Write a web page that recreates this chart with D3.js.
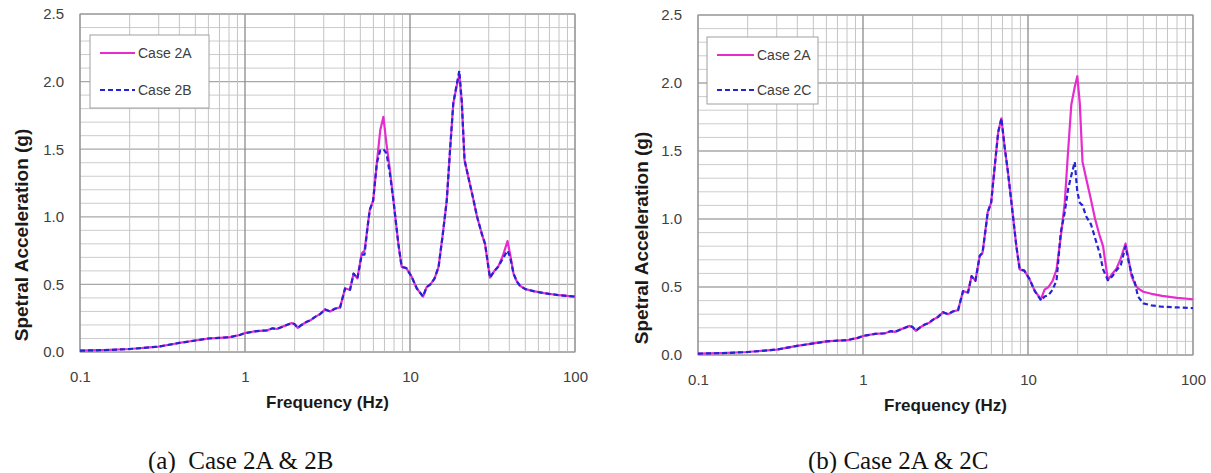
<!DOCTYPE html>
<html>
<head>
<meta charset="utf-8">
<script src="https://cdn.jsdelivr.net/npm/d3@7"></script>
<style>
  body { margin: 0; background: #fff; }
  svg { display: block; }
</style>
</head>
<body>
<div id="chart"></div>
<script>
// DATA ////////////////////////////////////////////////////////////
var freq = [0.1, 0.15, 0.2, 0.3, 0.39, 0.5, 0.6, 0.7, 0.81, 0.93,
  1.0, 1.18, 1.36, 1.47, 1.56, 1.75, 1.92, 2.0, 2.09, 2.2,
  2.37, 2.5, 2.66, 2.85, 3.06, 3.28, 3.5, 3.77, 4.04, 4.33,
  4.55, 4.8, 5.1, 5.3, 5.5, 5.7, 5.98, 6.3, 6.6, 6.9,
  7.2, 7.55, 7.94, 8.5, 8.9, 9.5, 10.2, 11.0, 12.0, 12.6,
  13.3, 14.1, 14.9, 15.8, 16.7, 17.5, 18.3, 19.2, 19.9, 20.6,
  21.4, 22.5, 24.1, 25.5, 27.3, 28.5, 30.5, 32.5, 34.2, 36.5,
  39.0, 40.5, 42.4, 44.5, 46.4, 50, 56, 65, 80, 100];

var case2A = [0.01, 0.015, 0.022, 0.04, 0.065, 0.085, 0.10, 0.105, 0.11, 0.126,
  0.14, 0.155, 0.16, 0.175, 0.17, 0.195, 0.214, 0.205, 0.178, 0.20,
  0.224, 0.235, 0.26, 0.28, 0.315, 0.30, 0.32, 0.33, 0.47, 0.46,
  0.58, 0.545, 0.73, 0.75, 0.90, 1.05, 1.12, 1.40, 1.64, 1.74,
  1.54, 1.35, 1.12, 0.80, 0.63, 0.62, 0.56, 0.47, 0.41, 0.48,
  0.50, 0.545, 0.63, 0.87, 1.12, 1.50, 1.84, 1.97, 2.05, 1.85,
  1.42, 1.30, 1.14, 1.00, 0.87, 0.80, 0.55, 0.60, 0.63, 0.71,
  0.82, 0.72, 0.58, 0.52, 0.49, 0.465, 0.45, 0.435, 0.42, 0.41];

var case2B = [0.01, 0.015, 0.022, 0.04, 0.065, 0.085, 0.10, 0.105, 0.11, 0.126,
  0.14, 0.155, 0.16, 0.175, 0.17, 0.195, 0.214, 0.205, 0.178, 0.20,
  0.224, 0.235, 0.26, 0.28, 0.315, 0.30, 0.32, 0.33, 0.47, 0.46,
  0.58, 0.545, 0.72, 0.72, 0.90, 1.05, 1.12, 1.40, 1.49, 1.50,
  1.47, 1.32, 1.12, 0.80, 0.63, 0.62, 0.56, 0.47, 0.41, 0.48,
  0.50, 0.545, 0.63, 0.87, 1.12, 1.50, 1.84, 1.98, 2.08, 1.85,
  1.42, 1.30, 1.14, 1.00, 0.87, 0.80, 0.55, 0.60, 0.63, 0.69,
  0.75, 0.70, 0.58, 0.52, 0.49, 0.465, 0.45, 0.435, 0.42, 0.41];

var case2C = [0.01, 0.015, 0.022, 0.04, 0.065, 0.085, 0.10, 0.105, 0.11, 0.126,
  0.14, 0.155, 0.16, 0.175, 0.17, 0.195, 0.214, 0.205, 0.178, 0.20,
  0.224, 0.235, 0.26, 0.28, 0.315, 0.30, 0.32, 0.33, 0.47, 0.46,
  0.58, 0.545, 0.73, 0.75, 0.90, 1.05, 1.12, 1.40, 1.64, 1.74,
  1.54, 1.35, 1.12, 0.80, 0.63, 0.62, 0.56, 0.47, 0.40, 0.43,
  0.44, 0.48, 0.55, 0.90, 1.05, 1.22, 1.32, 1.42, 1.20, 1.12,
  1.10, 1.02, 0.96, 0.86, 0.74, 0.63, 0.55, 0.58, 0.62, 0.66,
  0.80, 0.70, 0.60, 0.53, 0.43, 0.38, 0.365, 0.355, 0.35, 0.345];

var xTicks = [0.1, 1, 10, 100];
var yTicks = [0, 0.5, 1.0, 1.5, 2.0, 2.5];
var xTitle = "Frequency (Hz)";
var yTitle = "Spetral Acceleration (g)";

// SETUP ///////////////////////////////////////////////////////////
var width = 1211, height = 473;
var magenta = "#e62ccf", blue = "#2424d6";

var svg = d3.select("#chart").append("svg")
  .attr("width", width).attr("height", height);

var panels = [
  { left: 80, right: 575, top: 14, bottom: 352, yTitleX: 21, caption: "(a)\u00a0 Case 2A & 2B", capX: 148,
    legend: { x: 90, y: 35, w: 119, h: 73, gap: 37, lineW: 35 },
    series: [{ name: "Case 2A", values: case2A, color: magenta, dash: null },
             { name: "Case 2B", values: case2B, color: blue, dash: "5,3" }] },
  { left: 698, right: 1193, top: 15, bottom: 355, yTitleX: 641, caption: "(b) Case 2A & 2C", capX: 808,
    legend: { x: 707, y: 37, w: 111, h: 67, gap: 35, lineW: 37 },
    series: [{ name: "Case 2A", values: case2A, color: magenta, dash: null },
             { name: "Case 2C", values: case2C, color: blue, dash: "5,3" }] }
];

panels.forEach(function(p){ drawPanel(p); });

// DRAW ////////////////////////////////////////////////////////////
function drawPanel(p){
  var x = d3.scaleLog().domain([0.1, 100]).range([p.left, p.right]);
  var y = d3.scaleLinear().domain([0, 2.5]).range([p.bottom, p.top]);
  var g = svg.append("g");

  // minor grid
  var minorY = d3.range(0, 26).map(function(i){ return i / 10; });
  g.append("g").selectAll("line").data(minorY).enter().append("line")
    .attr("x1", p.left).attr("x2", p.right)
    .attr("y1", function(d){ return y(d); }).attr("y2", function(d){ return y(d); })
    .attr("stroke", function(d){ return Math.abs(d * 2 - Math.round(d * 2)) < 1e-6 ? "#a8a8a8" : "#cccccc"; })
    .attr("stroke-width", function(d){ return Math.abs(d * 2 - Math.round(d * 2)) < 1e-6 ? 1.3 : 1; });

  var minorX = [];
  [0.1, 1, 10].forEach(function(dec){
    for (var k = 1; k < 10; k++) minorX.push(dec * k);
  });
  minorX.push(100);
  g.append("g").selectAll("line").data(minorX).enter().append("line")
    .attr("y1", p.top).attr("y2", p.bottom)
    .attr("x1", function(d){ return x(d); }).attr("x2", function(d){ return x(d); })
    .attr("stroke", function(d){ return xTicks.indexOf(+d.toPrecision(3)) >= 0 ? "#8c8c8c" : "#c4c4c4"; })
    .attr("stroke-width", function(d){ return xTicks.indexOf(+d.toPrecision(3)) >= 0 ? 1.3 : 1; });

  // border
  g.append("rect").attr("x", p.left).attr("y", p.top)
    .attr("width", p.right - p.left).attr("height", p.bottom - p.top)
    .attr("fill", "none").attr("stroke", "#a0a0a0");

  // axes labels
  var yAxis = d3.axisLeft(y).tickValues(yTicks).tickSize(0).tickPadding(16)
    .tickFormat(d3.format(".1f"));
  var ya = g.append("g").attr("transform", "translate(" + p.left + ",0)").call(yAxis);
  ya.select(".domain").remove();
  ya.selectAll("text").attr("font-family", "Liberation Sans, Arial, sans-serif")
    .attr("font-size", 15).attr("fill", "#404040");

  var xAxis = d3.axisBottom(x).tickValues(xTicks).tickSize(0).tickPadding(19)
    .tickFormat(function(d){ return d < 1 ? "0.1" : d3.format("d")(d); });
  var xa = g.append("g").attr("transform", "translate(0," + p.bottom + ")").call(xAxis);
  xa.select(".domain").remove();
  xa.selectAll("text").attr("font-family", "Liberation Sans, Arial, sans-serif")
    .attr("font-size", 15).attr("fill", "#404040");

  // titles
  g.append("text").attr("x", (p.left + p.right) / 2).attr("y", p.bottom + 56)
    .attr("text-anchor", "middle").attr("font-family", "Liberation Sans, Arial, sans-serif")
    .attr("font-size", 17).attr("font-weight", "bold").attr("fill", "#1a1a1a").text(xTitle);

  g.append("text").attr("transform", "translate(" + (p.yTitleX + 7) + "," + (p.bottom - 117) + ") rotate(-90)")
    .attr("text-anchor", "middle").attr("font-family", "Liberation Sans, Arial, sans-serif")
    .attr("font-size", 19).attr("font-weight", "bold").attr("fill", "#1a1a1a").text(yTitle);

  // lines
  var line = d3.line()
    .x(function(d){ return x(d[0]); })
    .y(function(d){ return y(d[1]); });

  p.series.forEach(function(s){
    g.append("path").datum(d3.zip(freq, s.values))
      .attr("d", line).attr("fill", "none")
      .attr("stroke", s.color).attr("stroke-width", 2.2)
      .attr("stroke-dasharray", s.dash)
      .attr("stroke-linejoin", "round");
  });

  // legend
  var L = p.legend;
  var lg = g.append("g").attr("transform", "translate(" + L.x + "," + L.y + ")");
  lg.append("rect").attr("width", L.w).attr("height", L.h)
    .attr("fill", "#fff").attr("stroke", "#a0a0a0");
  p.series.forEach(function(s, i){
    var ly = 18 + i * L.gap;
    lg.append("line").attr("x1", 10).attr("x2", 10 + L.lineW)
      .attr("y1", ly).attr("y2", ly)
      .attr("stroke", s.color).attr("stroke-width", 2)
      .attr("stroke-dasharray", s.dash);
    lg.append("text").attr("x", 13 + L.lineW).attr("y", ly + 5)
      .attr("font-family", "Liberation Sans, Arial, sans-serif")
      .attr("font-size", 14).attr("fill", "#404040").text(s.name);
  });

  // caption
  svg.append("text").attr("x", p.capX).attr("y", 469)
    .attr("font-family", "Liberation Serif, Times New Roman, serif")
    .attr("font-size", 25).attr("fill", "#111").text(p.caption);
}
</script>
</body>
</html>
